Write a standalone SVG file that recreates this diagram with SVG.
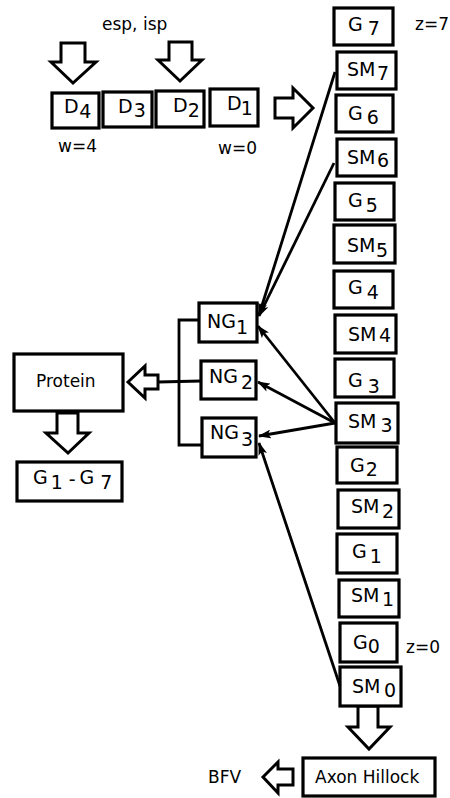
<svg xmlns="http://www.w3.org/2000/svg" width="450" height="798" viewBox="0 0 450 798">
  <style>
    .box { fill: #fff; stroke: #000; stroke-width: 3.2; }
    .blk { fill: #fff; stroke: #000; stroke-width: 3; stroke-linejoin: miter; }
    .lbl { font-family: "DejaVu Sans", "Liberation Sans", sans-serif; font-size: 19px; fill: #000; }
    .txt { font-family: "DejaVu Sans", "Liberation Sans", sans-serif; font-size: 17px; fill: #000; }
    .con { fill: none; stroke: #000; stroke-width: 2.8; }
  </style>
  <defs>
    <marker id="ah" viewBox="0 0 13 9" refX="12" refY="4.5" markerWidth="13" markerHeight="9" markerUnits="userSpaceOnUse" orient="auto">
      <path d="M0,0 L13,4.5 L0,9 L3,4.5 Z" fill="#000"/>
    </marker>
  </defs>

  <!-- free labels -->
  <text class="txt" x="102" y="30">esp, isp</text>
  <text class="txt" x="415" y="30">z=7</text>
  <text class="txt" x="58" y="152">w=4</text>
  <text class="txt" x="218" y="154">w=0</text>
  <text class="txt" x="406" y="653">z=0</text>
  <text class="txt" x="208" y="783">BFV</text>

  <!-- block arrows -->
  <g id="arrows">
    <polygon class="blk" points="61,43 85,43 85,62 96,62 73,83 51,62 61,62"/>
    <polygon class="blk" points="169,42 192,42 192,60 202,60 180,81 158,60 169,60"/>
    <polygon class="blk" points="275,98 293,98 293,88 313,108 293,128 293,118 275,118"/>
    <polygon class="blk" points="128,382 145,366 145,375 158,375 158,389 145,389 145,398"/>
    <polygon class="blk" points="57,413 78,413 78,433 89,433 68,453 46,433 57,433"/>
    <polygon class="blk" points="358,706 378,706 378,727 390,727 369,749 348,727 358,727"/>
    <polygon class="blk" points="263,777 278,762 278,769 293,769 293,785 278,785 278,793"/>
  </g>

  <!-- D chain -->
  <g id="D4"><rect class="box" x="52" y="93" width="47" height="35"/><text class="lbl" x="64" y="113">D<tspan dx="0.5" dy="5">4</tspan></text></g>
  <g id="D3"><rect class="box" x="103" y="92" width="49" height="35"/><text class="lbl" x="118" y="113">D<tspan dx="1" dy="4">3</tspan></text></g>
  <g id="D2"><rect class="box" x="156" y="91" width="48" height="36"/><text class="lbl" x="173" y="112">D<tspan dx="0" dy="5">2</tspan></text></g>
  <g id="D1"><rect class="box" x="210" y="89" width="48" height="37"/><text class="lbl" x="227" y="110">D<tspan dx="-1" dy="5">1</tspan></text></g>

  <!-- G / SM column -->
  <g id="G7"><rect class="box" x="334" y="8" width="59" height="37"/><text class="lbl" x="348" y="31">G<tspan dx="5" dy="4">7</tspan></text></g>
  <g id="SM7"><rect class="box" x="337" y="52" width="59" height="37"/><text class="lbl" x="347" y="76">SM<tspan dx="1.5" dy="4">7</tspan></text></g>
  <g id="G6"><rect class="box" x="336" y="95" width="57" height="37"/><text class="lbl" x="348" y="120">G<tspan dx="4" dy="4">6</tspan></text></g>
  <g id="SM6"><rect class="box" x="337" y="139" width="59" height="37"/><text class="lbl" x="347" y="164">SM<tspan dx="1.5" dy="3">6</tspan></text></g>
  <g id="G5"><rect class="box" x="335" y="183" width="59" height="37"/><text class="lbl" x="348" y="207">G<tspan dx="3" dy="5">5</tspan></text></g>
  <g id="SM5"><rect class="box" x="334" y="225" width="61" height="38"/><text class="lbl" x="347" y="252">SM<tspan dx="0.5" dy="5">5</tspan></text></g>
  <g id="G4"><rect class="box" x="334" y="271" width="59" height="37"/><text class="lbl" x="348" y="294">G<tspan dx="4" dy="5">4</tspan></text></g>
  <g id="SM4"><rect class="box" x="335" y="315" width="61" height="38"/><text class="lbl" x="348" y="341">SM<tspan dx="2.5" dy="1">4</tspan></text></g>
  <g id="G3"><rect class="box" x="335" y="359" width="59" height="38"/><text class="lbl" x="348" y="387">G<tspan dx="5" dy="6">3</tspan></text></g>
  <g id="SM3"><rect class="box" x="336" y="403" width="62" height="40"/><text class="lbl" x="348" y="428">SM<tspan dx="4" dy="4">3</tspan></text></g>
  <g id="G2"><rect class="box" x="337" y="447" width="60" height="36"/><text class="lbl" x="350" y="472">G<tspan dx="1" dy="4">2</tspan></text></g>
  <g id="SM2"><rect class="box" x="338" y="490" width="61" height="38"/><text class="lbl" x="351" y="513">SM<tspan dx="2.5" dy="5">2</tspan></text></g>
  <g id="G1"><rect class="box" x="337" y="534" width="60" height="39"/><text class="lbl" x="352" y="558">G<tspan dx="3" dy="5">1</tspan></text></g>
  <g id="SM1"><rect class="box" x="339" y="580" width="60" height="37"/><text class="lbl" x="351" y="602">SM<tspan dx="2.5" dy="4">1</tspan></text></g>
  <g id="G0"><rect class="box" x="340" y="623" width="57" height="39"/><text class="lbl" x="353" y="649">G<tspan dx="0" dy="4">0</tspan></text></g>
  <g id="SM0"><rect class="box" x="340" y="667" width="61" height="39"/><text class="lbl" x="352" y="693">SM<tspan dx="3.5" dy="4">0</tspan></text></g>

  <!-- NG nodes -->
  <g id="NG1"><rect class="box" x="199" y="303" width="58" height="39"/><text class="lbl" x="207" y="328">NG<tspan dx="0" dy="6">1</tspan></text></g>
  <g id="NG2"><rect class="box" x="201" y="361" width="55" height="38"/><text class="lbl" x="209" y="383">NG<tspan dx="3" dy="6">2</tspan></text></g>
  <g id="NG3"><rect class="box" x="202" y="418" width="54" height="39"/><text class="lbl" x="210" y="439">NG<tspan dx="2" dy="7">3</tspan></text></g>

  <!-- outputs -->
  <g id="Protein"><rect class="box" x="14" y="354" width="109" height="57"/><text class="txt" x="36" y="387">Protein</text></g>
  <g id="G1-G7"><rect class="box" x="17" y="462" width="105" height="39"/><text class="lbl" x="33" y="484">G<tspan dx="3" dy="5">1</tspan><tspan dx="6" dy="-3">-</tspan><tspan dx="3" dy="-2">G</tspan><tspan dx="6" dy="5">7</tspan></text></g>
  <g id="AxonHillock"><rect class="box" x="303" y="758" width="132" height="38"/><text class="txt" x="315" y="783">Axon Hillock</text></g>

  <!-- connectors -->
  <g id="connectors">
    <path class="con" d="M199,320 H179 V445 H202"/>
    <path class="con" d="M158,382 L201,381"/>
    <line class="con" x1="335" y1="72" x2="259" y2="315" marker-end="url(#ah)"/>
    <line class="con" x1="334" y1="163" x2="259" y2="316" marker-end="url(#ah)"/>
    <line class="con" x1="335" y1="423" x2="258" y2="326" marker-end="url(#ah)"/>
    <line class="con" x1="335" y1="423" x2="258" y2="382" marker-end="url(#ah)"/>
    <line class="con" x1="335" y1="423" x2="259" y2="436" marker-end="url(#ah)"/>
    <line class="con" x1="340" y1="686" x2="259" y2="443" marker-end="url(#ah)"/>
  </g>
</svg>
